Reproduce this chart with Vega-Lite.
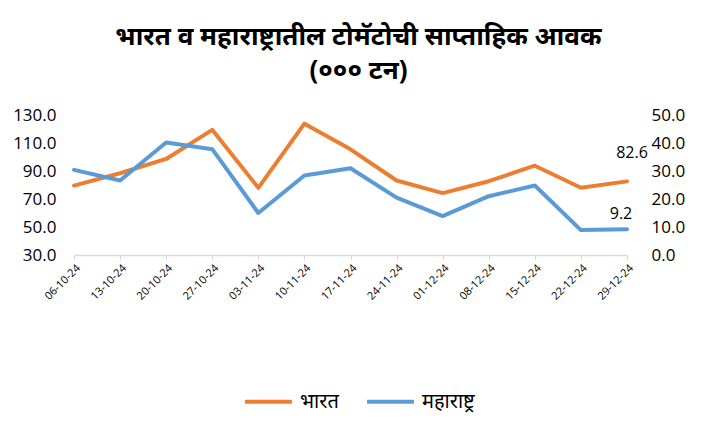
{
  "$schema": "https://vega.github.io/schema/vega-lite/v6.json",
  "autosize": {"type": "none"},
  "width": 553,
  "height": 140,
  "padding": {"left": 74, "top": 115, "right": 86, "bottom": 176},
  "background": "white",
  "title": {
    "text": ["भारत व महाराष्ट्रातील टोमॅटोची साप्ताहिक आवक", "(००० टन)"],
    "font": "Noto Sans",
    "fontSize": 26,
    "fontWeight": "bold",
    "lineHeight": 34,
    "color": "#000000",
    "anchor": "middle",
    "dx": 8,
    "offset": 22
  },
  "data": {
    "values": [
      {"date": "06-10-24", "india": 79.6, "maha": 30.4},
      {"date": "13-10-24", "india": 88.4, "maha": 26.6},
      {"date": "20-10-24", "india": 98.6, "maha": 40.2},
      {"date": "27-10-24", "india": 119.4, "maha": 37.8},
      {"date": "03-11-24", "india": 78.0, "maha": 15.0},
      {"date": "10-11-24", "india": 123.8, "maha": 28.4},
      {"date": "17-11-24", "india": 105.5, "maha": 31.0},
      {"date": "24-11-24", "india": 83.2, "maha": 20.5},
      {"date": "01-12-24", "india": 74.2, "maha": 13.9},
      {"date": "08-12-24", "india": 82.7, "maha": 21.0},
      {"date": "15-12-24", "india": 93.8, "maha": 24.8},
      {"date": "22-12-24", "india": 78.0, "maha": 8.9},
      {"date": "29-12-24", "india": 82.6, "maha": 9.2}
    ]
  },
  "encoding": {
    "x": {
      "field": "date",
      "type": "ordinal",
      "sort": null,
      "scale": {"type": "point", "padding": 0},
      "axis": {
        "title": null,
        "labelAngle": -45,
        "labelFont": "Open Sans",
        "labelFontSize": 11,
        "labelColor": "#000000",
        "labelOverlap": false,
        "domainColor": "#d9d9d9",
        "domainWidth": 1.5,
        "tickColor": "#d9d9d9",
        "tickSize": 5,
        "labelPadding": 2,
        "grid": false
      }
    }
  },
  "layer": [
    {
      "encoding": {
        "y": {
          "field": "india",
          "type": "quantitative",
          "scale": {"domain": [30, 130], "nice": false, "zero": false},
          "axis": {
            "title": null,
            "orient": "left",
            "values": [30, 50, 70, 90, 110, 130],
            "format": ".1f",
            "domain": false,
            "ticks": false,
            "grid": false,
            "labelOverlap": false,
            "labelFont": "Open Sans",
            "labelFontSize": 17,
            "labelColor": "#000000",
            "labelPadding": 18
          }
        }
      },
      "layer": [
        {
          "mark": {"type": "line", "strokeWidth": 4, "strokeCap": "round", "strokeJoin": "round"},
          "encoding": {"color": {"datum": "भारत"}}
        },
        {
          "transform": [{"filter": "datum.date == '29-12-24'"}],
          "mark": {"type": "text", "font": "Open Sans", "fontSize": 16, "color": "#000000", "dx": 5, "dy": -28},
          "encoding": {
            "text": {"field": "india", "type": "quantitative", "format": ".1f"}
          }
        }
      ]
    },
    {
      "encoding": {
        "y": {
          "field": "maha",
          "type": "quantitative",
          "scale": {"domain": [0, 50], "nice": false},
          "axis": {
            "title": null,
            "orient": "right",
            "values": [0, 10, 20, 30, 40, 50],
            "format": ".1f",
            "domain": false,
            "ticks": false,
            "grid": false,
            "labelOverlap": false,
            "labelFont": "Open Sans",
            "labelFontSize": 17,
            "labelColor": "#000000",
            "labelPadding": 24
          }
        }
      },
      "layer": [
        {
          "mark": {"type": "line", "strokeWidth": 4, "strokeCap": "round", "strokeJoin": "round"},
          "encoding": {"color": {"datum": "महाराष्ट्र"}}
        },
        {
          "transform": [{"filter": "datum.date == '29-12-24'"}],
          "mark": {"type": "text", "font": "Open Sans", "fontSize": 16, "color": "#000000", "dx": -6, "dy": -15},
          "encoding": {
            "text": {"field": "maha", "type": "quantitative", "format": ".1f"}
          }
        }
      ]
    }
  ],
  "resolve": {"scale": {"y": "independent"}},
  "config": {
    "view": {"stroke": null},
    "axis": {"labelOverlap": false},
    "range": {"category": ["#ED7D31", "#5B9BD5"]},
    "legend": {
      "orient": "none",
      "legendX": 169,
      "legendY": 261,
      "direction": "horizontal",
      "title": null,
      "symbolType": "stroke",
      "symbolSize": 2200,
      "symbolStrokeWidth": 4,
      "labelFont": "Noto Sans",
      "labelFontSize": 20,
      "labelColor": "#000000",
      "columnPadding": 20,
      "labelOffset": 6
    }
  }
}
